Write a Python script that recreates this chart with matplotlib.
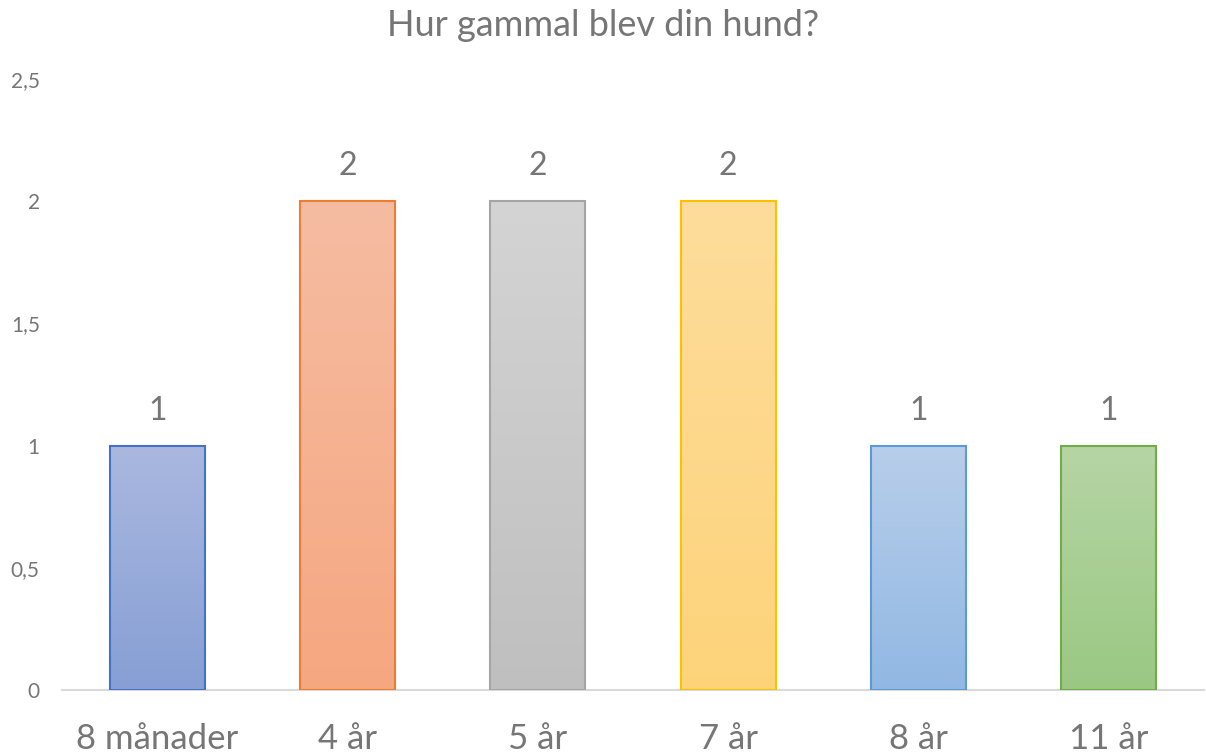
import numpy as np
import matplotlib.pyplot as plt
from matplotlib.colors import LinearSegmentedColormap

categories = ['8 månader', '4 år', '5 år', '7 år', '8 år', '11 år']
counts = [1, 2, 2, 2, 1, 1]
yticks = [0, 0.5, 1, 1.5, 2, 2.5]
ytick_labels = ['0', '0,5', '1', '1,5', '2', '2,5']

# (top, bottom, edge) per bar, Excel-ish gradient
top_colors = ['#AAB8DF', '#F5BCA2', '#D4D4D4', '#FEDD9C', '#B8CEEA', '#B6D5A5']
bottom_colors = ['#879FD5', '#F6A780', '#BFBFBF', '#FDD37A', '#91B8E3', '#9AC883']
edge_colors = ['#4472C4', '#ED7D31', '#A5A5A5', '#FFC000', '#5B9BD5', '#70AD47']

plt.rcParams['font.family'] = ['Lato', 'DejaVu Sans']
text_color = '#767676'

fig = plt.figure(figsize=(12.06, 7.56), dpi=100)
ax = fig.add_axes([62 / 1206, 66 / 756, 1142 / 1206, 611 / 756])

x = np.arange(len(categories))
bars = ax.bar(x, counts, width=0.5, facecolor='none', edgecolor=edge_colors,
              linewidth=1.5, zorder=3)

grad = np.linspace(0, 1, 256).reshape(-1, 1)
for bar, c_top, c_bot in zip(bars, top_colors, bottom_colors):
    cmap = LinearSegmentedColormap.from_list('g', [c_bot, c_top])
    x0, y0 = bar.get_x(), bar.get_y()
    w, h = bar.get_width(), bar.get_height()
    im = ax.imshow(grad, cmap=cmap, aspect='auto', origin='lower',
                   extent=[x0, x0 + w, y0, y0 + h], zorder=2)
    im.set_clip_path(bar)

for xi, v in zip(x, counts):
    ax.text(xi, v + 0.143, str(v), ha='center', va='center',
            fontsize=23, color=text_color)

ax.set_xlim(-0.5, len(categories) - 0.5)
ax.set_ylim(0, 2.5)
ax.set_yticks(yticks)
ax.set_yticklabels(ytick_labels, fontsize=15, color=text_color)
ax.set_xticks(x)
ax.set_xticklabels(categories, fontsize=25, color=text_color)
ax.tick_params(axis='both', length=0)
ax.tick_params(axis='y', pad=16)
ax.tick_params(axis='x', pad=24)

for side in ['top', 'right', 'left']:
    ax.spines[side].set_visible(False)
ax.spines['bottom'].set_color('#D9D9D9')
ax.spines['bottom'].set_linewidth(1.5)

fig.text(0.5, 1 - 25 / 756, 'Hur gammal blev din hund?', ha='center', va='center',
         fontsize=26, color=text_color)

fig.savefig('out.png', dpi=100)
